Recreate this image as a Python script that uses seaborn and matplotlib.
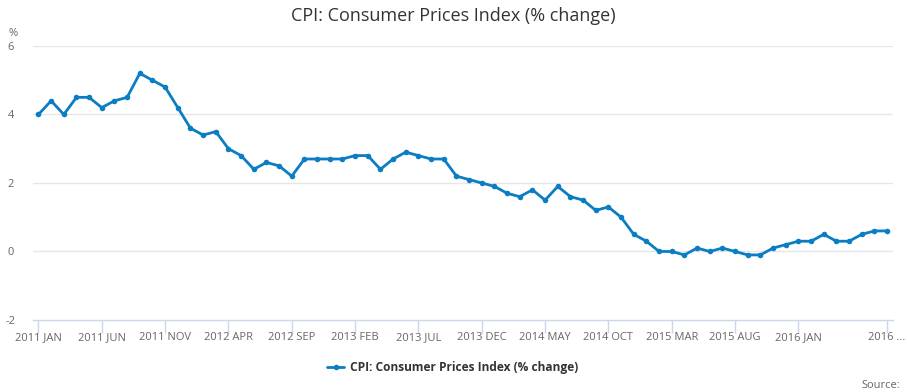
import pandas as pd
import numpy as np
import matplotlib
matplotlib.use("Agg")
import matplotlib.pyplot as plt
import seaborn as sns

sns.set_style("white")
plt.rcParams['font.family'] = ['Open Sans', 'DejaVu Sans']

# monthly CPI (% change), 2011 Jan .. 2016 Aug
months = pd.date_range('2011-01-01', '2016-08-01', freq='MS')
cpi = [4.0, 4.4, 4.0, 4.5, 4.5, 4.2, 4.4, 4.5, 5.2, 5.0, 4.8, 4.2,
       3.6, 3.4, 3.5, 3.0, 2.8, 2.4, 2.6, 2.5, 2.2, 2.7, 2.7, 2.7,
       2.7, 2.8, 2.8, 2.4, 2.7, 2.9, 2.8, 2.7, 2.7, 2.2, 2.1, 2.0,
       1.9, 1.7, 1.6, 1.8, 1.5, 1.9, 1.6, 1.5, 1.2, 1.3, 1.0, 0.5,
       0.3, 0.0, 0.0, -0.1, 0.1, 0.0, 0.1, 0.0, -0.1, -0.1, 0.1, 0.2,
       0.3, 0.3, 0.5, 0.3, 0.3, 0.5, 0.6, 0.6]
tick_pos = [0, 5, 10, 15, 20, 25, 30, 35, 40, 45, 50, 55, 60, 67]
tick_labels = ['2011 JAN', '2011 JUN', '2011 NOV', '2012 APR', '2012 SEP', '2013 FEB',
               '2013 JUL', '2013 DEC', '2014 MAY', '2014 OCT', '2015 MAR', '2015 AUG',
               '2016 JAN', '2016 ...']
y_ticks = [-2, 0, 2, 4, 6]

series_name = 'CPI: Consumer Prices Index (% change)'
df = pd.DataFrame({'month': months, 'idx': np.arange(len(months)), 'cpi': cpi})

fig = plt.figure(figsize=(9.07, 3.92), dpi=100)
ax = fig.add_axes([0.0364, 0.1837, 0.9482, 0.699])

line_col = '#0b7dc2'
sns.lineplot(data=df, x='idx', y='cpi', ax=ax, color=line_col, linewidth=2,
             marker='o', markersize=4, markeredgewidth=0, label=series_name)

ax.set_xlim(-0.43, 67.47)
ax.set_ylim(-2, 6)
ax.set_xticks(tick_pos)
ax.set_xticklabels(tick_labels)
ax.set_yticks(y_ticks)
ax.set_yticklabels([str(v) for v in y_ticks])
ax.set_xlabel('')
ax.set_ylabel('')

# light horizontal grid
for v in [0, 2, 4, 6]:
    ax.axhline(v, color='#e6e6e6', linewidth=1, zorder=0)

for s in ['top', 'right', 'left']:
    ax.spines[s].set_visible(False)
ax.spines['bottom'].set_color('#ccd6eb')
ax.spines['bottom'].set_linewidth(1)

ax.tick_params(axis='x', bottom=True, direction='out', length=9, width=1,
               color='#ccd6eb', labelcolor='#666666', labelsize=8, pad=0)
ax.tick_params(axis='y', left=False, length=0, labelsize=8, labelcolor='#666666', pad=16)
for t in ax.get_yticklabels():
    t.set_horizontalalignment('center')

fig.text(13 / 907, 1 - 33 / 392, '%', fontsize=8, color='#666666', ha='center', va='center')
fig.text(453.5 / 907, 1 - 16 / 392, series_name, fontsize=13, color='#333333',
         ha='center', va='center')

leg = ax.legend(loc='center', bbox_to_anchor=(0.488, -0.175), frameon=False,
                prop={'size': 8.6, 'weight': 'bold'}, handlelength=1.4, handletextpad=0.5)
for t in leg.get_texts():
    t.set_color('#333333')

fig.text(900 / 907, 1 - 386 / 392, 'Source:', fontsize=8, color='#666666', ha='right', va='center')

fig.savefig('out.png', dpi=100)
